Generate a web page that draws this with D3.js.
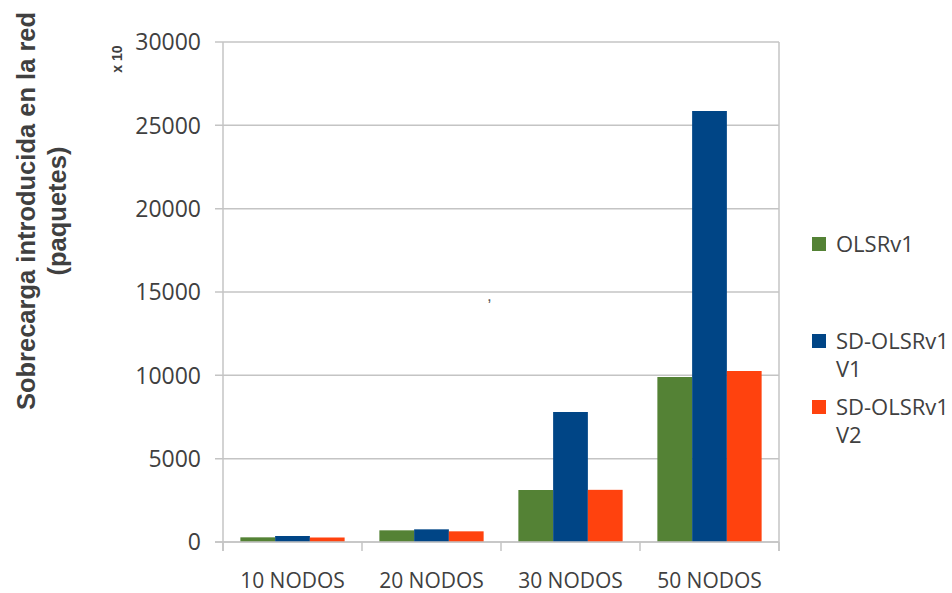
<!DOCTYPE html>
<html>
<head>
<meta charset="utf-8">
<script src="https://cdn.jsdelivr.net/npm/d3@7"></script>
<style>
  html, body { margin: 0; padding: 0; background: #fff; }
  svg { display: block; }
</style>
</head>
<body>
<svg id="chart" width="952" height="593"></svg>
<script>
// Network overhead per scenario (packets, axis scaled x10)
const categories = ["10 NODOS", "20 NODOS", "30 NODOS", "50 NODOS"];
const seriesNames = ["OLSRv1", "SD-OLSRv1 V1", "SD-OLSRv1 V2"];
const legendLines = [["OLSRv1"], ["SD-OLSRv1", "V1"], ["SD-OLSRv1", "V2"]];
const olsrV1 = [280, 700, 3120, 9900];
const sdOlsrV1 = [360, 760, 7800, 25860];
const sdOlsrV2 = [270, 640, 3130, 10260];
const yTicks = [0, 5000, 10000, 15000, 20000, 25000, 30000];
const colors = ["#548235", "#004586", "#ff420e"];

const seriesValues = [olsrV1, sdOlsrV1, sdOlsrV2];

const svg = d3.select("#chart");
const plotLeft = 223, plotRight = 779, plotTop = 42, plotBottom = 542;
const gridColor = "#c4c4c4";
const textColor = "#404040";

const x = d3.scaleBand().domain(categories).range([plotLeft, plotRight]).paddingInner(0).paddingOuter(0);
const xs = d3.scaleBand().domain(seriesNames).range([0, x.bandwidth()]).paddingInner(0).paddingOuter(0.5);
const y = d3.scaleLinear().domain([0, 30000]).range([plotBottom, plotTop]);

// horizontal gridlines with short ticks left of the axis
svg.append("g").selectAll("line").data(yTicks).join("line")
  .attr("x1", plotLeft - 8).attr("x2", plotRight)
  .attr("y1", d => y(d)).attr("y2", d => y(d))
  .attr("stroke", gridColor).attr("stroke-width", 1.5);

// right border of the plot area
svg.append("line")
  .attr("x1", plotRight).attr("x2", plotRight).attr("y1", plotTop).attr("y2", plotBottom + 9)
  .attr("stroke", gridColor).attr("stroke-width", 1.5);

// bars
const groups = svg.append("g").selectAll("g").data(categories).join("g")
  .attr("transform", c => `translate(${x(c)},0)`);
groups.selectAll("rect")
  .data((c, i) => seriesNames.map((s, k) => ({ s, k, v: seriesValues[k][i] })))
  .join("rect")
  .attr("x", d => xs(d.s))
  .attr("width", xs.bandwidth())
  .attr("y", d => y(d.v))
  .attr("height", d => y(0) - y(d.v))
  .attr("fill", d => colors[d.k]);

// y axis line
svg.append("line")
  .attr("x1", plotLeft).attr("x2", plotLeft).attr("y1", plotTop).attr("y2", plotBottom + 9)
  .attr("stroke", gridColor).attr("stroke-width", 1.5);

// baseline and category ticks
svg.append("line")
  .attr("x1", plotLeft - 8).attr("x2", plotRight).attr("y1", plotBottom).attr("y2", plotBottom)
  .attr("stroke", gridColor).attr("stroke-width", 1.5);
const boundaries = categories.map(c => x(c)).concat([plotRight]);
svg.append("g").selectAll("line").data(boundaries).join("line")
  .attr("x1", d => d).attr("x2", d => d).attr("y1", plotBottom).attr("y2", plotBottom + 9)
  .attr("stroke", gridColor).attr("stroke-width", 1.5);

// y tick labels
svg.append("g").selectAll("text").data(yTicks).join("text")
  .attr("x", 201).attr("y", d => y(d)).attr("dy", "0.36em")
  .attr("text-anchor", "end")
  .attr("font-family", "'Open Sans', sans-serif").attr("font-size", 23)
  .attr("fill", textColor)
  .text(d => d);

// x category labels
svg.append("g").selectAll("text").data(categories).join("text")
  .attr("x", c => x(c) + x.bandwidth() / 2).attr("y", 588)
  .attr("text-anchor", "middle")
  .attr("font-family", "'Open Sans', sans-serif").attr("font-size", 21)
  .attr("fill", textColor)
  .text(c => c);

// axis title
const titleLines = ["Sobrecarga introducida en la red", "(paquetes)"];
svg.append("g").selectAll("text").data(titleLines).join("text")
  .attr("transform", (d, i) => `translate(${35 + i * 31},211) rotate(-90)`)
  .attr("text-anchor", "middle")
  .attr("font-family", "'Liberation Sans', Arial, sans-serif").attr("font-weight", "bold")
  .attr("font-size", 25.5)
  .attr("fill", textColor)
  .text(d => d);

// scale factor note
svg.append("text")
  .attr("transform", "translate(122,59) rotate(-90)")
  .attr("text-anchor", "middle")
  .attr("font-family", "'Liberation Sans', Arial, sans-serif").attr("font-weight", "bold")
  .attr("font-size", 14)
  .attr("fill", textColor)
  .text("x 10");

// stray mark inside the plot
svg.append("text")
  .attr("x", 487).attr("y", 301)
  .attr("font-family", "'Liberation Sans', Arial, sans-serif").attr("font-size", 17)
  .attr("fill", "#555")
  .text(",");

// legend
const legendY = [244, 341, 407];
const legend = svg.append("g").selectAll("g").data(seriesNames).join("g")
  .attr("transform", (d, i) => `translate(812,${legendY[i]})`);
legend.append("rect")
  .attr("x", 0).attr("y", -7).attr("width", 14).attr("height", 14)
  .attr("fill", (d, i) => colors[i]);
legend.append("text")
  .attr("x", 24).attr("y", 0)
  .attr("font-family", "'Open Sans', sans-serif").attr("font-size", 22)
  .attr("fill", textColor)
  .selectAll("tspan").data((d, i) => legendLines[i]).join("tspan")
  .attr("x", 24).attr("dy", (d, j) => j === 0 ? "0.36em" : 28)
  .text(d => d);
</script>
</body>
</html>
